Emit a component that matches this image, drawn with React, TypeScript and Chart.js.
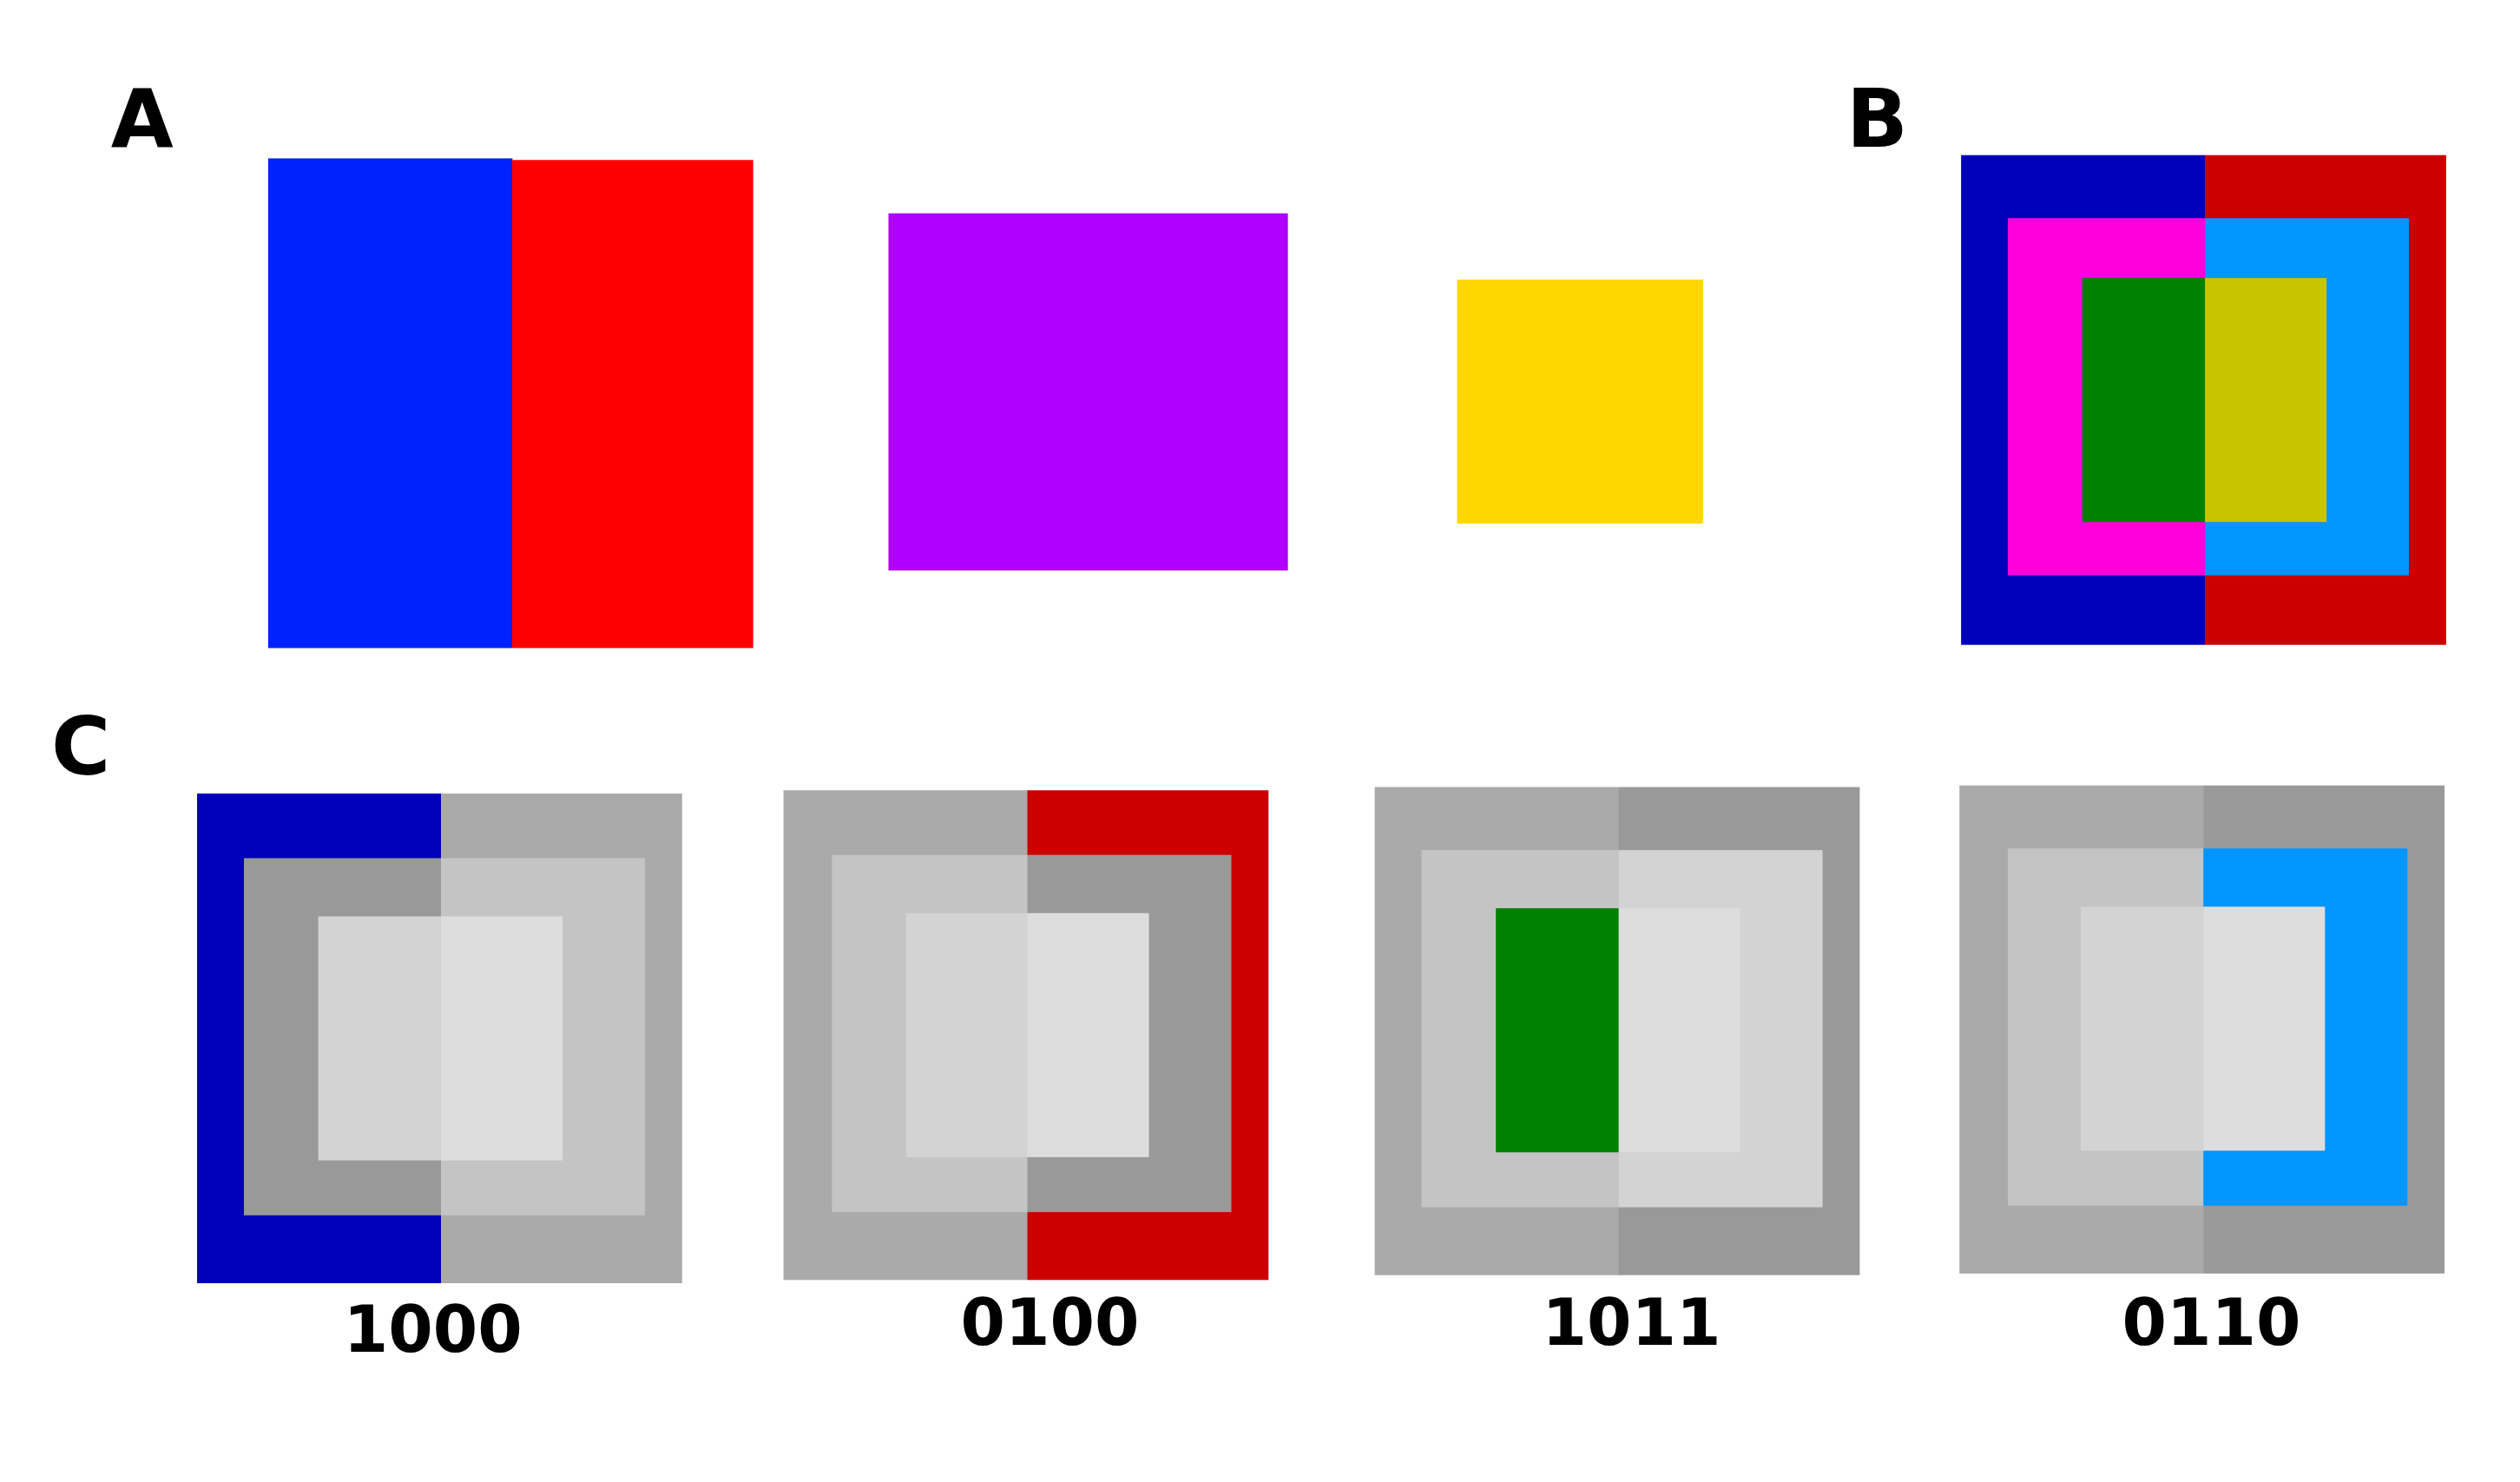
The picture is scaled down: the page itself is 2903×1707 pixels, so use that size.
import { useEffect, useRef } from "react";
import { Chart, registerables } from "chart.js";
Chart.register(...registerables);

// figure coordinates (x: 0..1560, y: 0..917 top-down)
const rectLeft = [166, 317, 550, 902, 1214, 1365, 1243, 1365, 1289, 1365,
  122, 273, 151, 273, 197, 273,
  485, 636, 515, 636, 561, 636,
  851, 1002, 880, 1002, 926, 1002,
  1213, 1364, 1243, 1364, 1288, 1364];
const rectRight = [317, 466, 797, 1054, 1365, 1514, 1365, 1491, 1365, 1440,
  273, 422, 273, 399, 273, 348,
  636, 785, 636, 762, 636, 711,
  1002, 1151, 1002, 1128, 1002, 1077,
  1364, 1513, 1364, 1490, 1364, 1439];
const rectTop = [98, 99, 132, 173, 96, 96, 135, 135, 172, 172,
  491, 491, 531, 531, 567, 567,
  489, 489, 529, 529, 565, 565,
  487, 487, 526, 526, 562, 562,
  486, 486, 525, 525, 561, 561];
const rectBottom = [401, 401, 353, 324, 399, 399, 356, 356, 323, 323,
  794, 794, 752, 752, 718, 718,
  792, 792, 750, 750, 716, 716,
  789, 789, 747, 747, 713, 713,
  788, 788, 746, 746, 712, 712];
const rectColor = ["#0022ff", "#ff0000", "#b000ff", "#ffd700", "#0000bb", "#cc0000", "#ff00dd", "#0095ff", "#008000", "#c8c400",
  "#0000bb", "#aaaaaa", "#999999", "#c4c4c4", "#d3d3d3", "#dddddd",
  "#aaaaaa", "#cc0000", "#c4c4c4", "#999999", "#d3d3d3", "#dddddd",
  "#aaaaaa", "#999999", "#c4c4c4", "#d3d3d3", "#008000", "#dddddd",
  "#aaaaaa", "#999999", "#c4c4c4", "#0095ff", "#d3d3d3", "#dddddd"];

const panelLetters = ["A", "B", "C"];
const letterX = [88, 1162, 50];
const letterY = [78, 78, 466];
const codeLabels = ["1000", "0100", "1011", "0110"];
const codeX = [268, 650, 1010, 1369];
const codeY = [826, 822, 822, 822];

const rectPlugin = {
  id: "rects",
  beforeDatasetsDraw(chart: any) {
    const { ctx, scales: { x, y } } = chart;
    const k = chart.width / 1560;
    ctx.save();
    rectLeft.forEach((l, i) => {
      const x1 = x.getPixelForValue(l), x2 = x.getPixelForValue(rectRight[i]);
      const y1 = y.getPixelForValue(rectTop[i]), y2 = y.getPixelForValue(rectBottom[i]);
      ctx.fillStyle = rectColor[i];
      ctx.fillRect(x1, y1, x2 - x1 + 0.5, y2 - y1);
    });
    ctx.fillStyle = "#000";
    ctx.textAlign = "center";
    ctx.textBaseline = "middle";
    ctx.font = `bold ${Math.round(50 * k)}px "DejaVu Sans"`;
    panelLetters.forEach((t, i) => ctx.fillText(t, x.getPixelForValue(letterX[i]), y.getPixelForValue(letterY[i])));
    ctx.font = `bold ${Math.round(40 * k)}px "DejaVu Sans"`;
    codeLabels.forEach((t, i) => ctx.fillText(t, x.getPixelForValue(codeX[i]), y.getPixelForValue(codeY[i])));
    ctx.restore();
  },
};

function Figure() {
  const ref = useRef<HTMLCanvasElement>(null);
  useEffect(() => {
    if (!ref.current) return;
    const chart = new Chart(ref.current, {
      type: "scatter",
      data: { datasets: [{ data: [] }] },
      options: {
        animation: false,
        responsive: true,
        maintainAspectRatio: false,
        layout: { padding: 0 },
        plugins: { legend: { display: false }, tooltip: { enabled: false } },
        scales: {
          x: { type: "linear", min: 0, max: 1560, display: false },
          y: { type: "linear", min: 0, max: 917, reverse: true, display: false },
        },
      },
      plugins: [rectPlugin],
    });
    return () => chart.destroy();
  }, []);
  return <canvas ref={ref} />;
}

export default function App() {
  useEffect(() => {
    document.body.style.margin = "0";
    document.body.style.overflow = "hidden";
  }, []);
  return (
    <div style={{ width: 2903, height: 1707, background: "#fff", position: "relative" }}>
      <Figure />
    </div>
  );
}
